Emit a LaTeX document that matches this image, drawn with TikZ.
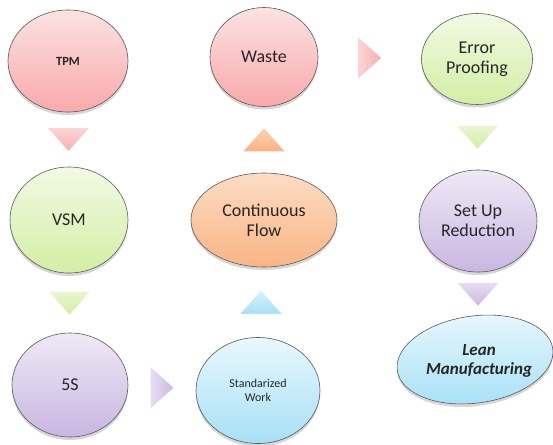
\documentclass[tikz,border=0pt]{standalone}
\usepackage{fontspec}
\setmainfont{Carlito}
\usetikzlibrary{shapes.geometric,shadows,calc}
\definecolor{txt}{HTML}{262626}
\definecolor{pinkT}{HTML}{FCE2E2}\definecolor{pinkB}{HTML}{F9A9AB}
\definecolor{greenT}{HTML}{F2FAE4}\definecolor{greenB}{HTML}{D3EEA4}
\definecolor{purpT}{HTML}{EFE9F6}\definecolor{purpB}{HTML}{C9B6E2}
\definecolor{orT}{HTML}{FCDCC4}\definecolor{orB}{HTML}{F9B584}
\definecolor{cyT}{HTML}{E9F8FD}\definecolor{cyB}{HTML}{A6E0F6}
\definecolor{tpT}{HTML}{FCD4D5}\definecolor{tpB}{HTML}{F8B0B3}
\definecolor{tgT}{HTML}{E9F6D2}\definecolor{tgB}{HTML}{D2EDA2}
\definecolor{tuT}{HTML}{E6DDF1}\definecolor{tuB}{HTML}{CAB9E2}
\definecolor{toT}{HTML}{FCD3B4}\definecolor{toB}{HTML}{F9B383}
\definecolor{tcT}{HTML}{D6F2FC}\definecolor{tcB}{HTML}{A6E0F6}
\tikzset{
  bubble/.style={ellipse, draw=black!65, line width=0.6pt, inner sep=0pt,
    align=center, text=txt, font=\fontsize{18}{20}\selectfont,
    drop shadow={opacity=0.32, shadow xshift=0pt, shadow yshift=-3pt}},
  tshadow/.style={drop shadow={opacity=0.28, shadow xshift=0pt, shadow yshift=-3pt}},
  tridown/.pic={\path[pic actions] (-20.5,-11.5) -- (20.5,-11.5) -- (0,11.5) -- cycle;},
  triup/.pic={\path[pic actions] (-20.5,11.5) -- (20.5,11.5) -- (0,-11.5) -- cycle;},
  triright/.pic={\path[pic actions] (-11.5,-20.5) -- (11.5,0) -- (-11.5,20.5) -- cycle;},
}
\begin{document}
\begin{tikzpicture}[x=1pt,y=-1pt]
\useasboundingbox (0,0) rectangle (553,444);
% nodes
\node[bubble, top color=pinkT, bottom color=pinkB, minimum width=120pt, minimum height=102pt,
  font=\fontsize{12.5}{14}\selectfont\bfseries] (tpm) at (68,61) {TPM};
\node[bubble, top color=pinkT, bottom color=pinkB, minimum width=108pt, minimum height=99pt] (waste) at (264,57) {Waste};
\node[bubble, top color=greenT, bottom color=greenB, minimum width=111pt, minimum height=91pt] (ep) at (477,59) {Error\\Proofing};
\node[bubble, top color=greenT, bottom color=greenB, minimum width=118pt, minimum height=106pt] (vsm) at (69,220) {VSM};
\node[bubble, top color=orT, bottom color=orB, minimum width=146pt, minimum height=94pt] (cf) at (264,220) {Continuous\\Flow};
\node[bubble, top color=purpT, bottom color=purpB, minimum width=118pt, minimum height=102pt] (sur) at (478,221) {Set Up\\Reduction};
\node[bubble, top color=purpT, bottom color=purpB, minimum width=116pt, minimum height=104pt] (five) at (70,385) {5S};
\node[bubble, top color=cyT, bottom color=cyB, minimum width=124pt, minimum height=106pt,
  font=\fontsize{12}{14}\selectfont] (sw) at (258,390.5) {Standarized\\Work};
\node[bubble, top color=cyT, bottom color=cyB, minimum width=157pt, minimum height=87pt, rotate=8] (lean) at (475,359.5) {};
\node[align=center, text=txt, font=\fontsize{17}{19}\selectfont\bfseries\itshape] (leantext) at (479,361) {Lean\\Manufacturing};
% arrow positions
\coordinate (a1) at ($(tpm.south)!0.5!(vsm.north)$);
\coordinate (a2) at ($(vsm.south)!0.5!(five.north)$);
\coordinate (a3) at ($(five.east)!0.5!(sw.west)$);
\coordinate (a4) at ($(sw.north)!0.5!(cf.south)$);
\coordinate (a5) at ($(cf.north)!0.5!(waste.south)$);
\coordinate (a6) at ($(waste.east)!0.5!(ep.west)$);
\coordinate (a7) at ($(ep.south)!0.5!(sur.north)$);
\coordinate (a8) at ($(sur.south)+(0,22)$);
% triangles
\pic[top color=tpT, bottom color=tpB, tshadow] at (a1) {tridown};
\pic[top color=tgT, bottom color=tgB, tshadow] at (a2) {tridown};
\pic[left color=tuT, right color=tuB, tshadow] at (a3) {triright};
\pic[top color=tcT, bottom color=tcB, tshadow] at (a4) {triup};
\pic[top color=toT, bottom color=toB, tshadow] at (a5) {triup};
\pic[left color=tpT, right color=tpB, tshadow] at (a6) {triright};
\pic[top color=tgT, bottom color=tgB, tshadow] at (a7) {tridown};
\pic[top color=tuT, bottom color=tuB, tshadow] at (a8) {tridown};
\end{tikzpicture}
\end{document}
